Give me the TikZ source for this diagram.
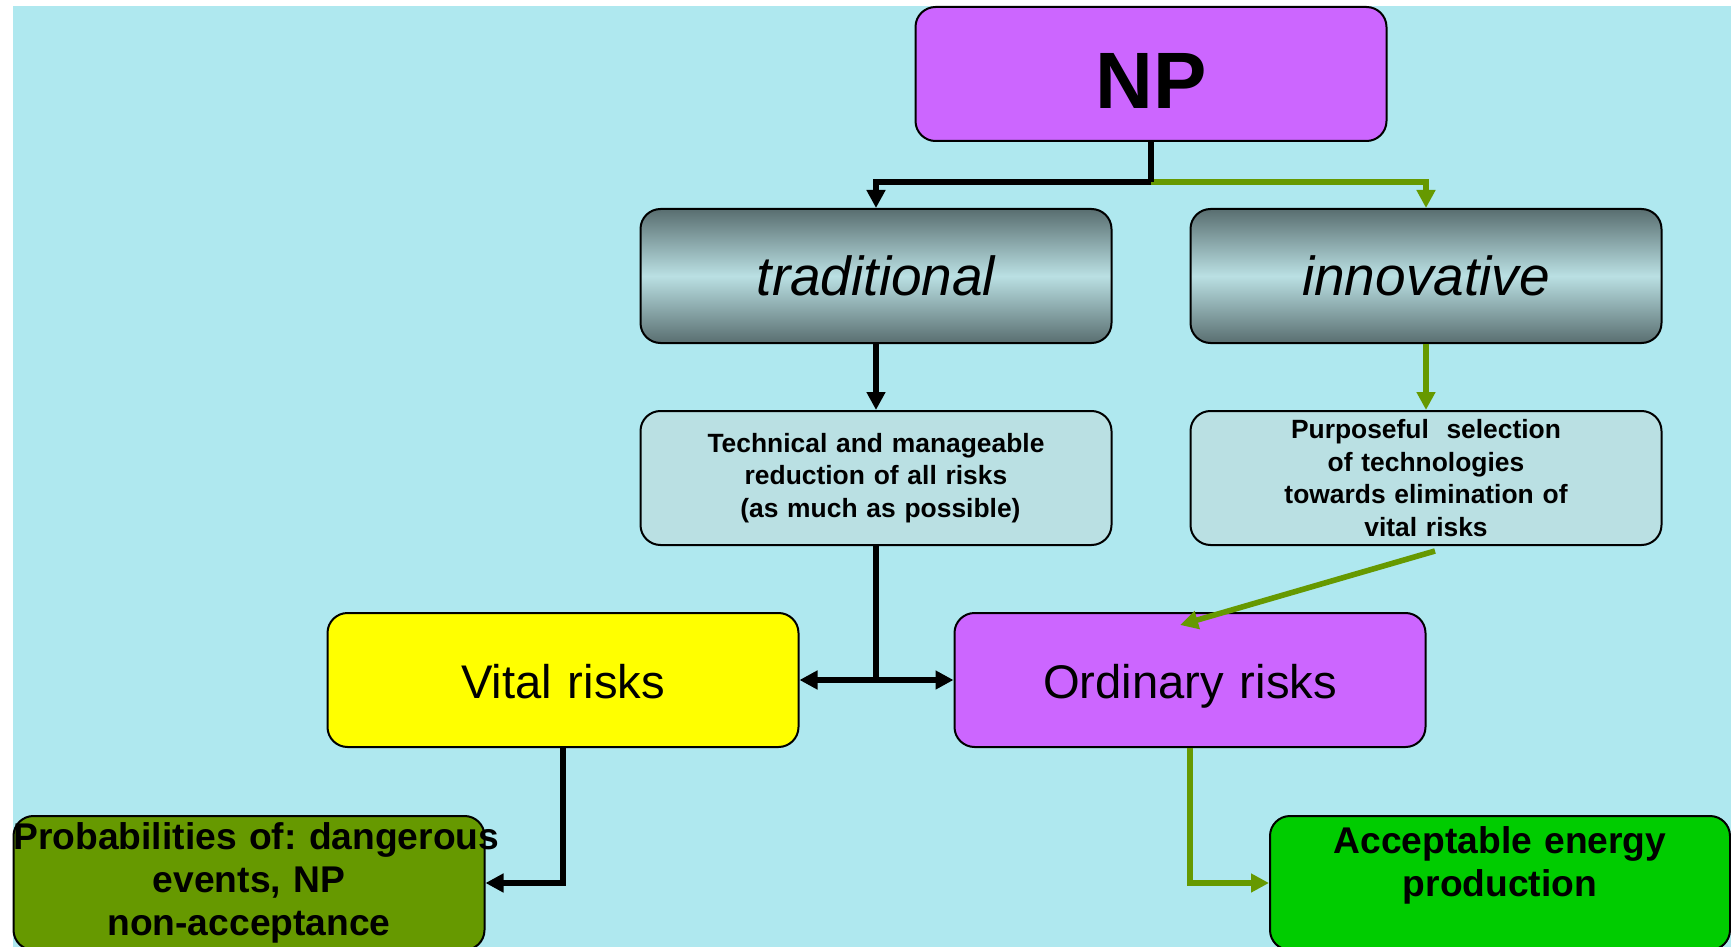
\documentclass[tikz,border=0pt]{standalone}
\usepackage{fontspec}
\setmainfont{Liberation Sans}
\usepackage{xcolor}
\usepackage{tikz}
\usetikzlibrary{arrows.meta, positioning, calc}
\frenchspacing

\definecolor{bgblue}{HTML}{AFE8EF}
\definecolor{npviolet}{HTML}{CC66FF}
\definecolor{paleblue}{HTML}{BAE0E3}
\definecolor{slategray}{HTML}{596E70}
\definecolor{leafgreen}{HTML}{669900}
\definecolor{brightgreen}{HTML}{00CC00}
\definecolor{pureyellow}{HTML}{FFFF00}

\begin{document}
\begin{tikzpicture}[x=0.5pt, y=-0.5pt,
            >={Triangle[length=9pt,width=9pt]},
            box/.style={draw, line width=1pt, rounded corners=10pt,
                minimum width=235.5pt, text width=235.5pt, minimum height=67pt,
                inner xsep=0pt, align=center},
            shadebox/.style={top color=slategray, bottom color=slategray,
                middle color=paleblue},
            smalltext/.style={font=\fontsize{13.2pt}{16.3pt}\selectfont\bfseries},
            risktext/.style={font=\fontsize{23.6pt}{28pt}\selectfont,
                text height=20pt, text depth=1.2pt},
            resulttext/.style={font=\fontsize{18.6pt}{21.5pt}\selectfont\bfseries},
            blackline/.style={draw=black, line width=2.8pt},
            greenline/.style={draw=leafgreen, line width=2.8pt}]
            \useasboundingbox (0,0) rectangle (1731,947);
            \fill[white] (0,0) rectangle (1731,947);
            \fill[bgblue] (13,6) rectangle (1731,947);

            % 顶层
            \node[box, fill=npviolet, font=\fontsize{40pt}{44pt}\selectfont\bfseries,
                text height=35pt, text depth=0.8pt] (np) at (1151,74) {NP};

            % 两条路线
            \node[box, shadebox, font=\fontsize{27.5pt}{32pt}\selectfont\itshape]
                (trad) at (876,276) {traditional};
            \node[box, shadebox, font=\fontsize{27.5pt}{32pt}\selectfont\itshape]
                (innov) at (1426,276) {innovative};

            % 措施
            \node[box, fill=paleblue, smalltext] (tech) at (876,478) {
                Technical and manageable\\
                reduction of all risks\\
                \ (as much as possible)
            };
            \node[box, fill=paleblue, smalltext] (purpose) at (1426,478) {
                Purposeful\ \ selection\\
                of technologies\\
                towards elimination of\\
                vital risks
            };

            % 风险
            \node[box, fill=pureyellow, risktext] (vital) at (563,680) {Vital risks};
            \node[box, fill=npviolet, risktext] (ordinary) at (1190,680) {Ordinary risks};

            % 结果
            \node[box, fill=leafgreen, resulttext] (prob) at (249,883) {
                \makebox[\linewidth][l]{Probabilities of: dangerous}\\
                events, NP\\
                non-acceptance
            };
            \node[box, fill=brightgreen, resulttext, minimum width=230pt,
                text width=230pt] (accept) at (1500,883) {
                Acceptable energy\\
                production\\
                \mbox{}
            };

            % 箭头连接
            \coordinate (split) at (1151,182);
            \draw[greenline, ->] (split) -| (innov.north);
            \draw[blackline, ->] (split) -| (trad.north);
            \draw[blackline] (np.south) -- (split);
            \draw[blackline, ->] (trad) -- (tech);
            \draw[greenline, ->] (innov) -- (purpose);
            \draw[blackline] (tech) -- (tech |- vital.east);
            \draw[blackline, <->] (vital) -- (ordinary);
            \draw[greenline, ->] ([shift={(9,5)}]purpose.south) -- ([shift={(-10,13)}]ordinary.north);
            \draw[blackline, ->] (vital.south) |- (prob.east);
            \draw[greenline, ->] (ordinary.south) |- (accept.west);
        \end{tikzpicture}
\end{document}
